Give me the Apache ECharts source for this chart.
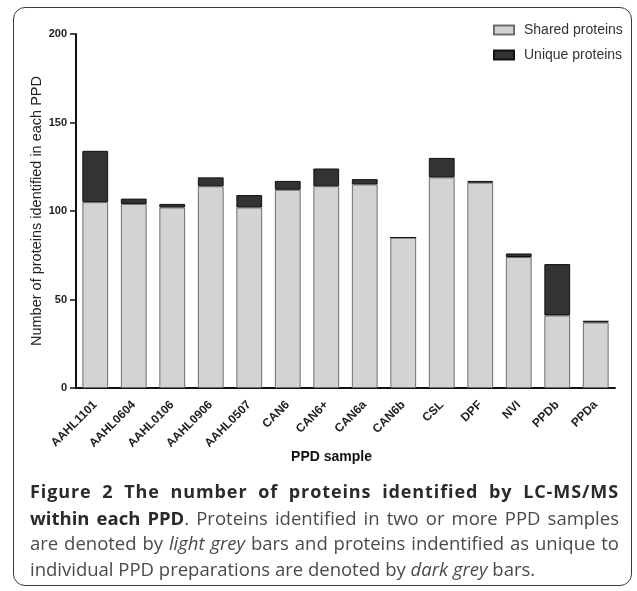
<!DOCTYPE html>
<html>
<head>
<meta charset="utf-8">
<script src="https://cdn.jsdelivr.net/npm/echarts@6/dist/echarts.min.js"></script>
<style>
  html, body { margin: 0; padding: 0; background: #fff; }
  #wrap { position: relative; width: 637px; height: 591px; overflow: hidden; }
  #frame { position: absolute; left: 13px; top: 7px; width: 619px; height: 579px;
           border: 1.5px solid #3a3a3a; border-radius: 12px; box-sizing: border-box; }
  #chart { position: absolute; left: 0; top: 0; width: 637px; height: 591px; }
  #caption { position: absolute; left: 30px; top: 479px; width: 589px;
             font-family: "Open Sans", sans-serif; font-size: 18.5px; line-height: 25.5px; color: #4a4a4a; }
  #caption .ln { white-space: nowrap; text-align: justify; text-align-last: justify; }
  #caption .first { letter-spacing: 0.9px; font-size: 18px; }
  #caption .last { white-space: nowrap; text-align: left; }
  #caption b { color: #2a2a2a; font-weight: 700; }
</style>
</head>
<body>
<div id="wrap">
  <div id="frame"></div>
  <div id="chart"></div>
  <div id="caption">
    <div class="ln first"><b>Figure 2 The number of proteins identified by LC-MS/MS</b></div>
    <div class="ln"><b>within each PPD</b>. Proteins identified in two or more PPD samples</div>
    <div class="ln">are denoted by <i>light grey</i> bars and proteins indentified as unique to</div>
    <div class="last">individual PPD preparations are denoted by <i>dark grey</i> bars.</div>
  </div>
</div>
<script>
const categories = ['AAHL1101','AAHL0604','AAHL0106','AAHL0906','AAHL0507','CAN6','CAN6+','CAN6a','CAN6b','CSL','DPF','NVI','PPDb','PPDa'];
const sharedProteins = [105,104,102,114,102,112,114,115,85,119,116,74,41,37];
const uniqueProteins = [29,3,2,5,7,5,10,3,0,11,1,2,29,1];
const yTicks = [0,50,100,150,200];

const chart = echarts.init(document.getElementById('chart'), null, {renderer: 'canvas'});
const axisFont = "'Liberation Sans', Arial, sans-serif";
chart.setOption({
  animation: false,
  legend: {
    orient: 'vertical',
    left: 493, top: 23, padding: 0,
    icon: 'rect',
    itemWidth: 20, itemHeight: 9, itemGap: 11,
    textStyle: { fontFamily: axisFont, fontSize: 14, color: '#333', padding: [0,0,0,5] },
    data: ['Shared proteins', 'Unique proteins']
  },
  grid: { left: 76, right: 22, top: 34, bottom: 203, containLabel: false },
  xAxis: {
    type: 'category',
    data: categories,
    name: 'PPD sample',
    nameLocation: 'middle',
    nameGap: 62,
    nameMoveOverlap: false,
    nameTextStyle: { fontFamily: axisFont, fontSize: 14, fontWeight: 'bold', color: '#111', padding: [0, 28, 0, 0] },
    axisLine: { lineStyle: { color: '#111', width: 2 } },
    axisTick: { alignWithLabel: true, length: 5, lineStyle: { color: '#111', width: 1.5 } },
    axisLabel: { interval: 0, rotate: 45, margin: 15, fontFamily: axisFont, fontSize: 12, fontWeight: 'bold', color: '#222' }
  },
  yAxis: {
    type: 'value',
    min: yTicks[0], max: yTicks[yTicks.length - 1], interval: 50,
    name: 'Number of proteins identified in each PPD',
    nameLocation: 'middle',
    nameGap: 32,
    nameMoveOverlap: false,
    nameTextStyle: { fontFamily: axisFont, fontSize: 14.5, color: '#222' },
    axisLine: { show: true, lineStyle: { color: '#111', width: 2 } },
    axisTick: { show: true, length: 6, lineStyle: { color: '#111', width: 1.5 } },
    axisLabel: { margin: 9, fontFamily: axisFont, fontSize: 11, fontWeight: 'bold', color: '#222' },
    splitLine: { show: false }
  },
  series: [
    {
      name: 'Shared proteins', type: 'bar', stack: 'total',
      data: sharedProteins,
      barCategoryGap: '33%',
      itemStyle: { color: '#d3d3d3', borderColor: '#6e6e6e', borderWidth: 1 }
    },
    {
      name: 'Unique proteins', type: 'bar', stack: 'total',
      data: uniqueProteins,
      barCategoryGap: '33%',
      itemStyle: { color: '#333333', borderColor: '#111', borderWidth: 1 }
    }
  ]
});
</script>
</body>
</html>
